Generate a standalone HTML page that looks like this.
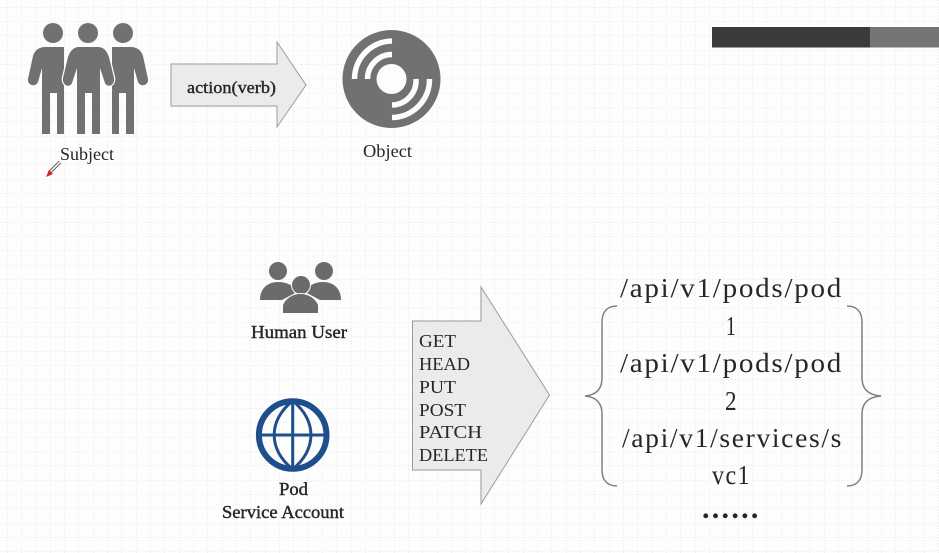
<!DOCTYPE html>
<html><head><meta charset="utf-8"><style>
html,body{margin:0;padding:0;background:#fdfdfd}
svg{display:block}
text{font-family:"Liberation Serif",serif;fill:#262626}
.m{stroke:#262626;stroke-width:.4px}
</style></head><body>
<svg width="939" height="553" viewBox="0 0 939 553" xmlns="http://www.w3.org/2000/svg">
<defs>
<pattern id="g" width="43" height="43" patternUnits="userSpaceOnUse">
<path d="M0 7.500H43M0 21.500H43M0 35.500H43M7.500 0V43M21.500 0V43M35.500 0V43" stroke="#eef0f3" stroke-width="1" stroke-dasharray="1.5 1.5" fill="none"/>
</pattern>
</defs>
<rect width="939" height="553" fill="#fdfdfd"/>
<rect width="939" height="553" fill="url(#g)"/>

<rect x="712" y="27" width="158" height="20.500" fill="#3a3c39"/>
<rect x="870" y="27" width="69" height="20.500" fill="#747674"/>

<g fill="#70726f">
<circle cx="53" cy="33" r="10"/><circle cx="88" cy="33" r="10"/><circle cx="123" cy="33" r="10"/>
<path d="M44 47C38 48 35 50 33 56L28 79C27 85 35 88 38 82L42 68V134H50V93H57V134H64V47Z"/>
<path d="M132 47C138 48 141 50 143 56L148 79C149 85 141 88 138 82L134 68V134H126V93H119V134H112V47Z"/>
<path d="M78 47C72 48 70 52 68 57L63 78C62 86 70 88 72 83L77 68V134H85V93H92V134H100V68L105 83C107 88 115 86 114 78L109 57C107 52 105 48 99 47Z" stroke="#fdfdfd" stroke-width="2.500" paint-order="stroke"/>
</g>
<path d="M60 162L49 173" stroke="#666" stroke-width="3.500"/><path d="M60 162L49 173" stroke="#fff" stroke-width="1.500"/>
<path d="M46 177L49 170L53 174Z" fill="#e02020"/>
<text x="60" y="160" font-size="18" textLength="54" lengthAdjust="spacingAndGlyphs">Subject</text>

<path d="M171 64H277V42L306 85L277 127V106H171Z" fill="#ebecea" stroke="#9a9c9a" stroke-width="1"/>
<text x="187" y="93" font-size="17" class="m" textLength="89" lengthAdjust="spacingAndGlyphs">action(verb)</text>

<circle cx="391.500" cy="79" r="49" fill="#70726f"/><circle cx="391.500" cy="79" r="15" fill="#fdfdfd"/>
<g fill="none" stroke="#fdfdfd" stroke-width="5.500">
<path d="M392 41A38 38 0 0 0 354.500 79"/>
<path d="M392 54.500A24.500 24.500 0 0 0 367.500 79"/>
<path d="M429.500 79A38 38 0 0 1 392 117.500"/>
<path d="M416 79A24.500 24.500 0 0 1 392 105"/>
</g>
<text x="363" y="157" font-size="18" textLength="49" lengthAdjust="spacingAndGlyphs">Object</text>

<g fill="#6d6a6a">
<circle cx="278" cy="271" r="9"/><circle cx="324" cy="271" r="9"/>
<path d="M260 300C260 288 268 282 278 282C288 282 294 286 297 292L282 300Z"/>
<path d="M341 300C341 288 333 282 323 282C314 282 308 286 305 292L320 300Z"/>
<circle cx="301" cy="285" r="9" stroke="#fdfdfd" stroke-width="2" paint-order="stroke"/>
<path d="M283 313V305C286 298 293 294 300.500 294C308 294 315 298 318 305V313Z" stroke="#fdfdfd" stroke-width="2" paint-order="stroke"/>
</g>
<text x="251" y="338" font-size="18" class="m" textLength="96" lengthAdjust="spacingAndGlyphs">Human User</text>

<g fill="none" stroke="#1f4e8c">
<circle cx="292.700" cy="435" r="33.800" stroke-width="6"/>
<path d="M292.700 401C268 420 268 450 292.700 469C317 450 317 420 292.700 401Z" stroke-width="3"/>
<path d="M292.700 401V469M259 435H327" stroke-width="3"/>
</g>
<text x="279" y="495" font-size="18" class="m" textLength="29" lengthAdjust="spacingAndGlyphs">Pod</text>
<text x="222" y="518" font-size="18" class="m" textLength="122" lengthAdjust="spacingAndGlyphs">Service Account</text>

<path d="M412.500 321H481V287L549.500 395L481 504V470H412.500Z" fill="#ebecea" stroke="#9a9c9a" stroke-width="1"/>
<g font-size="18">
<text x="419" y="347" textLength="37" lengthAdjust="spacingAndGlyphs">GET</text>
<text x="419" y="370" textLength="51" lengthAdjust="spacingAndGlyphs">HEAD</text>
<text x="419" y="393" textLength="37" lengthAdjust="spacingAndGlyphs">PUT</text>
<text x="419" y="416" textLength="47" lengthAdjust="spacingAndGlyphs">POST</text>
<text x="419" y="438" textLength="63" lengthAdjust="spacingAndGlyphs">PATCH</text>
<text x="419" y="461" textLength="69" lengthAdjust="spacingAndGlyphs">DELETE</text>
</g>

<g fill="none" stroke="#808280" stroke-width="1.500">
<path d="M617 306C608 306 602 311 602 322V378C602 389 596 395 585 396C596 397 602 403 602 414V470C602 481 608 486 617 486"/>
<path d="M847 306C856 306 862 311 862 322V378C862 389 868 395 881 396C868 397 862 403 862 414V470C862 481 856 486 847 486"/>
</g>
<g font-size="27" style="letter-spacing:1.6px">
<text x="620" y="297" textLength="223" lengthAdjust="spacingAndGlyphs">/api/v1/pods/pod</text>
<text x="726" y="335" textLength="11" lengthAdjust="spacingAndGlyphs">1</text>
<text x="620" y="372" textLength="223" lengthAdjust="spacingAndGlyphs">/api/v1/pods/pod</text>
<text x="725" y="410" textLength="13" lengthAdjust="spacingAndGlyphs">2</text>
<text x="622" y="447" textLength="221" lengthAdjust="spacingAndGlyphs">/api/v1/services/s</text>
<text x="712" y="484" textLength="39" lengthAdjust="spacingAndGlyphs">vc1</text>
<text x="702" y="518" font-size="30" font-weight="bold" textLength="58" lengthAdjust="spacing">......</text>
</g>
</svg>
</body></html>
